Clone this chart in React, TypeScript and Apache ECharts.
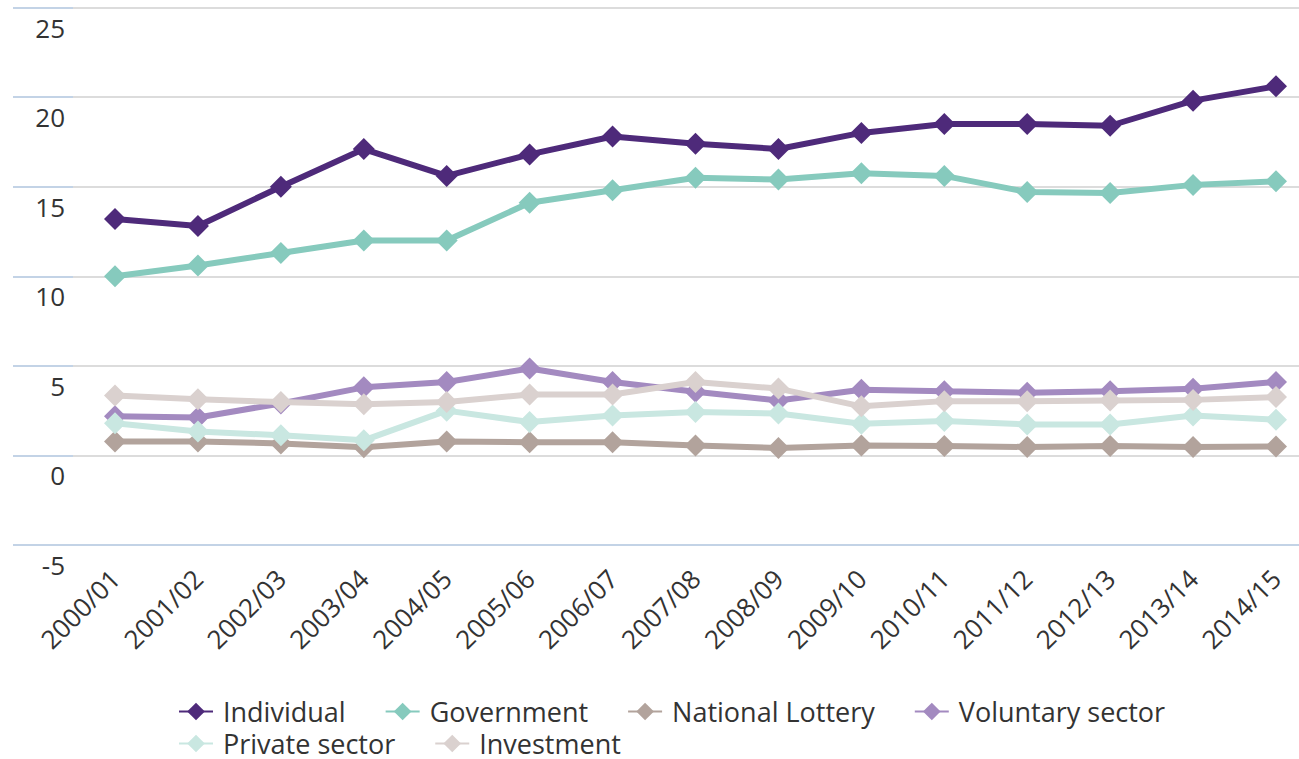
import React, { useEffect, useRef } from "react";
import * as echarts from "echarts";

const categories = [
  "2000/01", "2001/02", "2002/03", "2003/04", "2004/05", "2005/06", "2006/07", "2007/08",
  "2008/09", "2009/10", "2010/11", "2011/12", "2012/13", "2013/14", "2014/15",
];
const individual = [13.2, 12.8, 15.0, 17.1, 15.6, 16.8, 17.8, 17.4, 17.1, 18.0, 18.5, 18.5, 18.4, 19.8, 20.6];
const government = [10.0, 10.6, 11.3, 12.0, 12.0, 14.1, 14.8, 15.5, 15.4, 15.75, 15.6, 14.7, 14.65, 15.1, 15.3];
const nationalLottery = [0.78, 0.78, 0.67, 0.46, 0.78, 0.74, 0.74, 0.56, 0.41, 0.56, 0.52, 0.47, 0.52, 0.47, 0.5];
const voluntarySector = [2.18, 2.12, 2.9, 3.8, 4.1, 4.85, 4.1, 3.55, 3.07, 3.67, 3.58, 3.5, 3.58, 3.72, 4.1];
const privateSector = [1.8, 1.34, 1.12, 0.84, 2.5, 1.86, 2.23, 2.42, 2.34, 1.77, 1.92, 1.73, 1.73, 2.23, 1.99];
const investment = [3.35, 3.13, 2.98, 2.85, 2.98, 3.4, 3.4, 4.1, 3.73, 2.74, 3.03, 3.03, 3.07, 3.1, 3.26];

const seriesNames = ["Individual", "Government", "National Lottery", "Voluntary sector", "Private sector", "Investment"];
const seriesValues = [individual, government, nationalLottery, voluntarySector, privateSector, investment];
const seriesColors = ["#4E2A7A", "#86CABD", "#B2A39C", "#A38AC0", "#C9E7E1", "#DAD1CF"];

const FONT = "'Open Sans', 'DejaVu Sans', sans-serif";

export default function App() {
  const ref = useRef<HTMLDivElement>(null);
  useEffect(() => {
    if (!ref.current) return;
    const chart = echarts.init(ref.current, null, { renderer: "svg" });
    const top = 7.5;
    const bottom = 214;
    chart.setOption({
      animation: false,
      backgroundColor: "#ffffff",
      textStyle: { fontFamily: FONT },
      grid: [
        { left: 73, right: 0, top, bottom },
        { left: 115, right: 23, top, bottom },
      ],
      xAxis: [
        {
          type: "value",
          gridIndex: 0,
          min: 0,
          max: 1,
          axisLine: { show: true, onZero: false, lineStyle: { color: "#C3D3E6", width: 2 } },
          axisTick: { show: false },
          axisLabel: { show: false },
          splitLine: { show: false },
        },
        {
          type: "category",
          gridIndex: 1,
          data: categories,
          boundaryGap: false,
          axisLine: { show: false },
          axisTick: { show: false },
          axisLabel: {
            interval: 0,
            rotate: 45,
            margin: 29,
            fontSize: 26,
            color: "#333333",
            fontFamily: FONT,
          },
        },
      ],
      yAxis: [
        {
          type: "value",
          gridIndex: 0,
          min: -5,
          max: 25,
          interval: 5,
          axisLine: { show: false },
          axisTick: { show: true, length: 60, lineStyle: { color: "#C3D3E6", width: 2 } },
          splitLine: { show: true, lineStyle: { color: "#DCDCDC", width: 2 } },
          axisLabel: {
            margin: 8,
            fontSize: 26,
            color: "#333333",
            fontFamily: FONT,
            verticalAlign: "top",
            lineHeight: 26,
            padding: [7, 0, 0, 0],
          },
        },
        {
          type: "value",
          gridIndex: 1,
          min: -5,
          max: 25,
          interval: 5,
          show: false,
          splitLine: { show: false },
        },
      ],
      legend: {
        left: 178,
        top: 698,
        width: 1080,
        itemWidth: 34,
        itemHeight: 22,
        itemGap: 5,
        padding: 0,
        data: seriesNames,
        textStyle: {
          fontSize: 27,
          color: "#333333",
          fontFamily: FONT,
          padding: [0, 34, 0, 5],
          lineHeight: 27,
        },
      },
      series: seriesNames.map((name, i) => ({
        name,
        type: "line",
        xAxisIndex: 1,
        yAxisIndex: 1,
        data: seriesValues[i],
        symbol: "diamond",
        symbolSize: 22,
        showAllSymbol: true,
        lineStyle: { color: seriesColors[i], width: 6 },
        itemStyle: { color: seriesColors[i] },
        z: 2 + i,
      })),
    });
    return () => chart.dispose();
  }, []);
  return (
    <div
      ref={ref}
      style={{ position: "fixed", left: 0, top: 0, width: 1299, height: 759 }}
    />
  );
}
